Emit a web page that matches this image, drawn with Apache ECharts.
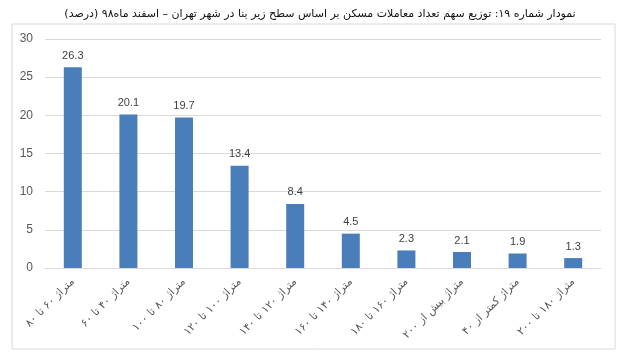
<!DOCTYPE html>
<html><head><meta charset="utf-8">
<script src="https://cdn.jsdelivr.net/npm/echarts@6/dist/echarts.min.js"></script>
<style>html,body{margin:0;padding:0;background:#fff}#c{width:640px;height:360px}</style>
</head><body><div id="c"></div>
<script>
var titleText = 'نمودار شماره ۱۹: توزیع سهم تعداد معاملات مسکن بر اساس سطح زیر بنا در شهر تهران – اسفند ماه۹۸ (درصد)';
var categories = ['متراژ ۶۰ تا ۸۰','متراژ ۴۰ تا ۶۰','متراژ ۸۰ تا ۱۰۰','متراژ ۱۰۰ تا ۱۲۰','متراژ ۱۲۰ تا ۱۴۰','متراژ ۱۴۰ تا ۱۶۰','متراژ ۱۶۰ تا ۱۸۰','متراژ بیش از ۲۰۰','متراژ کمتر از ۴۰','متراژ ۱۸۰ تا ۲۰۰'];
var values = [26.3, 20.1, 19.7, 13.4, 8.4, 4.5, 2.3, 2.1, 1.9, 1.3];
var chart = echarts.init(document.getElementById('c'));
chart.setOption({
  animation:false,
  title:{text:titleText,left:'center',top:4,textStyle:{fontFamily:'DejaVu Sans',fontSize:11,fontWeight:'normal',color:'#111'}},
  graphic:[{type:'rect',shape:{x:12,y:24,width:603,height:325},style:{fill:'none',stroke:'#d9d9d9',lineWidth:1},silent:true}],
  grid:{left:45,right:39,top:39,bottom:92},
  xAxis:{type:'category',data:categories,
    axisLine:{lineStyle:{color:'#d9d9d9'}},axisTick:{show:false},
    axisLabel:{rotate:45,interval:0,fontFamily:'DejaVu Sans',fontSize:11,color:'#595959',margin:12}},
  yAxis:{type:'value',min:0,max:30,interval:5,
    axisLine:{show:false},axisTick:{show:false},
    splitLine:{lineStyle:{color:'#d9d9d9'}},
    axisLabel:{fontFamily:'Liberation Sans',fontSize:12,color:'#595959',margin:12}},
  series:[{type:'bar',data:values,barWidth:18,itemStyle:{color:'#4a7ebb'},
    label:{show:true,position:'top',fontFamily:'Liberation Sans',fontSize:11,color:'#404040',distance:6}}]
});
</script></body></html>
